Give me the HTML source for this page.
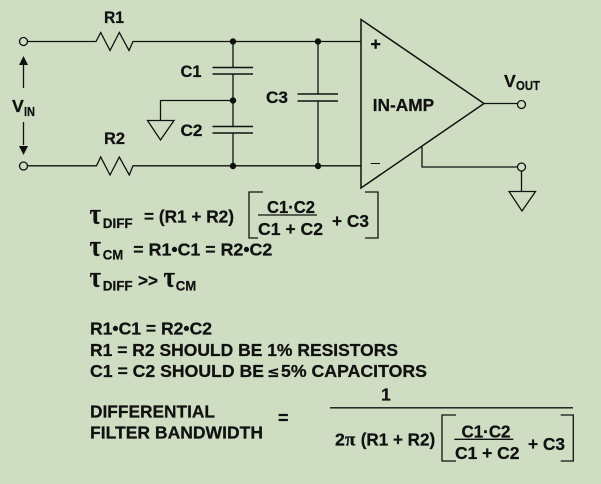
<!DOCTYPE html>
<html><head><meta charset="utf-8"><style>
html,body{margin:0;padding:0;background:#cfdec3}
svg{display:block}
text{font-family:"Liberation Sans",sans-serif;font-weight:bold;fill:#111;stroke:#111;stroke-width:.25}
.t{font-family:"Liberation Serif",serif}
.s{font-family:"DejaVu Sans","Liberation Sans",sans-serif}
</style></head><body>
<svg width="601" height="484" viewBox="0 0 601 484" xmlns="http://www.w3.org/2000/svg">
<rect width="601" height="484" fill="#cfdec3"/>
<g fill="none" stroke="#111" stroke-width="1.3">
<path d="M28 41.500H96L100.700 32.500 110 50.500 119.300 32.500 129 50.500 133 41.500H361"/>
<path d="M28 165.800H96.500L100.700 157 110 175 119.300 157 129.300 175 133 165.800H361"/>
<circle cx="23.500" cy="41.500" r="4" fill="#cfdec3"/>
<circle cx="23.500" cy="166" r="4" fill="#cfdec3"/>
<path d="M23.500 88V65M23.500 122V145"/>
<path d="M233 41.500V68M233 74V127M233 133V166"/>
<path d="M212.500 67.500H253M212.500 74H253M212.500 126.500H253M212.500 133H253" stroke-width="1.500"/>
<path d="M233 100.500H160.500V120.500M147.500 120.500H174L160.500 140Z"/>
<path d="M318 41.500V94M318 101V166"/>
<path d="M297.500 94H338M297.500 101H338" stroke-width="1.500"/>
<path d="M361 19.500V188L484 103.500Z" stroke-width="1.500"/>
<path d="M484 103.500H517"/>
<circle cx="521.500" cy="104.500" r="4" fill="#cfdec3"/>
<path d="M422 146.500V167H517"/>
<circle cx="521.500" cy="167" r="4" fill="#cfdec3"/>
<path d="M521.500 171V191.500M509 191.500H535.500L522 211Z"/>
<path d="M370.700 163.500H380" stroke-width="1"/>
<path d="M263 192H249V238H258M365 192H378V238H365"/>
<path d="M258 215H317"/>
<path d="M330 407.800H573"/>
<path d="M456 415H442V461H456M560.700 415H573.300V461H560.700"/>
<path d="M454.300 439.300H513.300"/>
</g>
<g fill="#111">
<circle cx="233" cy="41.500" r="3.200"/><circle cx="233" cy="100.500" r="3.200"/><circle cx="233" cy="166" r="3.200"/>
<circle cx="318" cy="41.500" r="3.200"/><circle cx="318" cy="166" r="3.200"/>
<path d="M23.500 56L19 65H28ZM23.500 155L19 146H28Z"/>
<path d="M371 43H380.300V45.200H371ZM374.500 39.500H376.800V48.700H374.500Z"/>
</g>
<g font-size="17.700">
<text x="104" y="23" textLength="20" lengthAdjust="spacingAndGlyphs" font-size="17">R1</text>
<text x="104" y="144" textLength="21" lengthAdjust="spacingAndGlyphs" font-size="17">R2</text>
<text x="180.500" y="77" textLength="21" lengthAdjust="spacingAndGlyphs" font-size="17">C1</text>
<text x="180.500" y="136" textLength="22" lengthAdjust="spacingAndGlyphs" font-size="17">C2</text>
<text x="266" y="103" textLength="22" lengthAdjust="spacingAndGlyphs" font-size="17">C3</text>
<text x="12" y="112">V</text><text x="24" y="116" font-size="13" textLength="11" lengthAdjust="spacingAndGlyphs">IN</text>
<text x="372.700" y="111" textLength="61.500" lengthAdjust="spacingAndGlyphs">IN-AMP</text>
<text x="504" y="87">V</text><text x="516" y="90" font-size="13" textLength="24" lengthAdjust="spacingAndGlyphs">OUT</text>

<text x="89.500" y="223.500" font-size="30" class="t" textLength="11.500" lengthAdjust="spacingAndGlyphs">τ</text><text x="102.700" y="228" font-size="14" textLength="30" lengthAdjust="spacingAndGlyphs">DIFF</text>
<text x="144" y="222.500" textLength="90" lengthAdjust="spacingAndGlyphs">= (R1 + R2)</text>
<text x="267" y="213" textLength="48" lengthAdjust="spacingAndGlyphs">C1·C2</text>
<text x="258" y="235" textLength="65" lengthAdjust="spacingAndGlyphs">C1 + C2</text>
<text x="332" y="227" textLength="37" lengthAdjust="spacingAndGlyphs">+ C3</text>
<text x="89.500" y="255.500" font-size="30" class="t" textLength="11.500" lengthAdjust="spacingAndGlyphs">τ</text><text x="102.700" y="259.300" font-size="14" textLength="20.500" lengthAdjust="spacingAndGlyphs">CM</text>
<text x="133.300" y="255.500" textLength="139" lengthAdjust="spacingAndGlyphs">= R1•C1 = R2•C2</text>
<text x="89.500" y="286.500" font-size="30" class="t" textLength="11.500" lengthAdjust="spacingAndGlyphs">τ</text><text x="102.700" y="290.700" font-size="14" textLength="30" lengthAdjust="spacingAndGlyphs">DIFF</text>
<text x="138" y="286.500" textLength="20" lengthAdjust="spacingAndGlyphs">&gt;&gt;</text>
<text x="163.500" y="286.500" font-size="30" class="t" textLength="11.500" lengthAdjust="spacingAndGlyphs">τ</text><text x="175.700" y="290.700" font-size="14" textLength="20.500" lengthAdjust="spacingAndGlyphs">CM</text>

<text x="90" y="334.300" textLength="122" lengthAdjust="spacingAndGlyphs">R1•C1 = R2•C2</text>
<text x="90" y="356" textLength="308" lengthAdjust="spacingAndGlyphs">R1 = R2 SHOULD BE 1% RESISTORS</text>
<text x="90" y="377" textLength="174" lengthAdjust="spacingAndGlyphs">C1 = C2 SHOULD BE</text>
<text x="267" y="377" class="s" font-size="15">≤</text>
<text x="281" y="377" textLength="146" lengthAdjust="spacingAndGlyphs">5% CAPACITORS</text>
<text x="90" y="417.500" textLength="125" lengthAdjust="spacingAndGlyphs">DIFFERENTIAL</text>
<text x="90" y="438.500" textLength="173" lengthAdjust="spacingAndGlyphs">FILTER BANDWIDTH</text>
<text x="278" y="424" font-size="18">=</text>
<text x="381" y="400.700">1</text>
<text x="335" y="445.700">2</text>
<text x="345" y="445.700" class="t" font-size="19">π</text>
<text x="360.700" y="445.700" textLength="74.500" lengthAdjust="spacingAndGlyphs">(R1 + R2)</text>
<text x="461.500" y="437.500" textLength="49" lengthAdjust="spacingAndGlyphs">C1·C2</text>
<text x="455" y="459" textLength="64.500" lengthAdjust="spacingAndGlyphs">C1 + C2</text>
<text x="528" y="450" textLength="37" lengthAdjust="spacingAndGlyphs">+ C3</text>
</g>
</svg>
</body></html>
